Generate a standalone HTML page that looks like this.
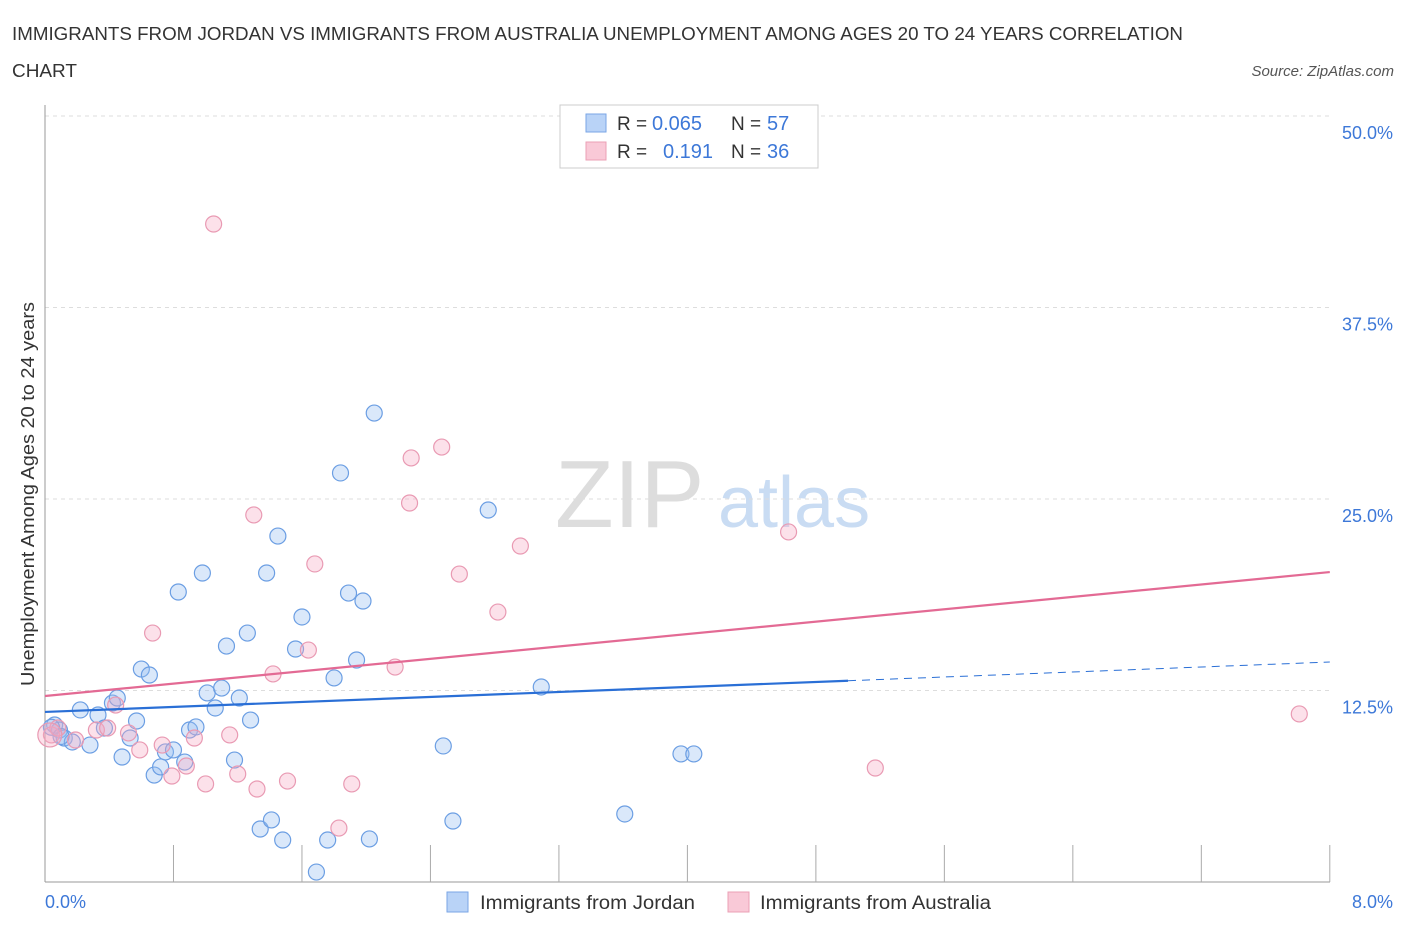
<!DOCTYPE html>
<html><head><meta charset="utf-8"><style>
body{margin:0;background:#fff;font-family:"Liberation Sans",sans-serif;}
svg text{font-family:"Liberation Sans",sans-serif;}
</style></head><body>
<svg id="chart" width="1406" height="930" xmlns="http://www.w3.org/2000/svg">
<text x="12" y="40" font-size="18" fill="#333" textLength="1171" lengthAdjust="spacingAndGlyphs">IMMIGRANTS FROM JORDAN VS IMMIGRANTS FROM AUSTRALIA UNEMPLOYMENT AMONG AGES 20 TO 24 YEARS CORRELATION</text>
<text x="12" y="77" font-size="18" fill="#333" textLength="65" lengthAdjust="spacingAndGlyphs">CHART</text>
<text x="1394" y="76" font-size="15" fill="#555" font-style="italic" text-anchor="end">Source: ZipAtlas.com</text>
<text x="555" y="527" font-size="96" fill="#ddd" font-family="Liberation Serif">ZIP</text>
<text x="718" y="527" font-size="72" fill="#c9dcf3">atlas</text>
<g id="grid"></g><g id="marks"></g><g id="trend"></g>
<text transform="translate(34,494) rotate(-90)" font-size="18" fill="#333" text-anchor="middle" textLength="384" lengthAdjust="spacingAndGlyphs">Unemployment Among Ages 20 to 24 years</text>
<text x="45" y="908" font-size="18" fill="#3d78d8">0.0%</text>
<text x="1393" y="908" font-size="18" fill="#3d78d8" text-anchor="end">8.0%</text>
<g>
<rect x="560" y="105" width="258" height="63" fill="#fff" stroke="#ccc"/>
<rect x="586" y="114" width="20" height="18" fill="#b9d3f7" stroke="#7aa6e6"/>
<rect x="586" y="142" width="20" height="18" fill="#f9c9d7" stroke="#eba0b6"/>
<text x="617" y="130" font-size="19" fill="#333">R =</text>
<text x="652" y="130" font-size="20" fill="#3d78d8">0.065</text>
<text x="731" y="130" font-size="19" fill="#333">N =</text>
<text x="767" y="130" font-size="20" fill="#3d78d8">57</text>
<text x="617" y="158" font-size="19" fill="#333">R =</text>
<text x="663" y="158" font-size="20" fill="#3d78d8">0.191</text>
<text x="731" y="158" font-size="19" fill="#333">N =</text>
<text x="767" y="158" font-size="20" fill="#3d78d8">36</text>
</g>
<g><rect x="447" y="892" width="21" height="20" fill="#b9d3f7" stroke="#7aa6e6"/><text x="480" y="909" font-size="19" fill="#333" textLength="215" lengthAdjust="spacingAndGlyphs">Immigrants from Jordan</text></g>
<g><rect x="728" y="892" width="21" height="20" fill="#f9c9d7" stroke="#eba0b6"/><text x="760" y="909" font-size="19" fill="#333" textLength="231" lengthAdjust="spacingAndGlyphs">Immigrants from Australia</text></g>
</svg>
<script>
const jordanX=[0.06,0.09,0.12,0.17,0.22,0.28,0.33,0.37,0.42,0.45,0.48,0.53,0.57,0.60,0.65,0.68,0.72,0.75,0.80,0.83,0.87,0.90,0.94,0.98,1.01,1.06,1.10,1.13,1.18,1.21,1.26,1.28,1.34,1.38,1.41,1.45,1.48,1.56,1.60,1.69,1.76,1.80,1.84,1.89,1.94,1.98,2.02,2.05,2.48,2.54,2.76,3.09,3.61,3.96,4.04,0.04,0.10];
const jordanY=[10.25,9.92,9.40,9.14,11.23,8.94,10.90,10.05,11.68,12.01,8.16,9.40,10.51,13.90,13.51,6.98,7.51,8.49,8.62,18.93,7.83,9.92,10.12,20.17,12.34,11.36,12.66,15.40,7.96,12.01,16.25,10.57,3.46,20.17,4.05,22.58,2.74,15.21,17.30,0.65,2.74,13.32,26.70,18.86,14.49,18.34,2.81,30.61,8.88,3.98,24.28,12.73,4.44,8.36,8.36,10.1,9.5];
const ausX=[0.04,0.08,0.19,0.32,0.39,0.44,0.52,0.59,0.67,0.73,0.79,0.88,0.93,1.00,1.05,1.15,1.20,1.30,1.32,1.42,1.51,1.64,1.68,1.83,1.91,2.18,2.28,2.27,2.47,2.58,2.82,2.96,4.63,5.17,7.81,0.03];
const ausY=[9.60,10.05,9.27,9.92,10.05,11.55,9.73,8.62,16.25,8.94,6.92,7.57,9.40,6.40,42.95,9.60,7.05,23.96,6.07,13.58,6.59,15.14,20.76,3.52,6.40,14.03,27.68,24.74,28.39,20.10,17.62,21.93,22.85,7.44,10.97,9.6];
const yTicks=[12.5,25,37.5,50];
const yTickLabels=["12.5%","25.0%","37.5%","50.0%"];
const xTicks=[0.8,1.6,2.4,3.2,4.0,4.8,5.6,6.4,7.2,8.0];
const jordanTrend=[11.10,14.36], ausTrend=[12.14,20.23];
const X=v=>45+v*160.6, Y=v=>882-v*15.32;
const NS="http://www.w3.org/2000/svg";
function mk(p,t,a){const e=document.createElementNS(NS,t);for(const k in a)e.setAttribute(k,a[k]);p.appendChild(e);return e;}
const grid=document.getElementById('grid'),marks=document.getElementById('marks'),trend=document.getElementById('trend');
yTicks.forEach((t,i)=>{const l=mk(grid,'line',{x1:45,x2:1330,y1:Y(t),y2:Y(t),stroke:'#ddd','stroke-dasharray':'4,4'});


const tx=mk(grid,'text',{x:1393,y:Y(t)+23,'font-size':18,fill:'#3d78d8','text-anchor':'end'});tx.textContent=yTickLabels[i];

});
const ax=mk(grid,'line',{x1:45,x2:1330,y1:882,y2:882,stroke:'#999'});


const ay=mk(grid,'line',{x1:45,x2:45,y1:105,y2:882,stroke:'#999'});


xTicks.forEach(t=>{const l=mk(grid,'line',{x1:X(t),x2:X(t),y1:845,y2:882,stroke:'#aaa'});

});
jordanX.forEach((x,i)=>{const c=mk(marks,'circle',{cx:X(x),cy:Y(jordanY[i]),r:8,fill:'rgba(150,190,240,0.35)',stroke:'#6b9ee3','stroke-width':1.2});

});
ausX.forEach((x,i)=>{const c=mk(marks,'circle',{cx:X(x),cy:Y(ausY[i]),r:i==35?12:8,fill:'rgba(245,170,195,0.35)',stroke:'#e99ab3','stroke-width':1.2});

});
const jm=jordanTrend[0]+(jordanTrend[1]-jordanTrend[0])*5/8;
const t1=mk(trend,'line',{x1:X(0),y1:Y(jordanTrend[0]),x2:X(5),y2:Y(jm),stroke:'#2a6fd6','stroke-width':2.2});


const t2=mk(trend,'line',{x1:X(5),y1:Y(jm),x2:X(8),y2:Y(jordanTrend[1]),stroke:'#2a6fd6','stroke-width':1,'stroke-dasharray':'8,6'});


const t3=mk(trend,'line',{x1:X(0),y1:Y(ausTrend[0]),x2:X(8),y2:Y(ausTrend[1]),stroke:'#e36a94','stroke-width':2.2});


</script>
</body></html>
